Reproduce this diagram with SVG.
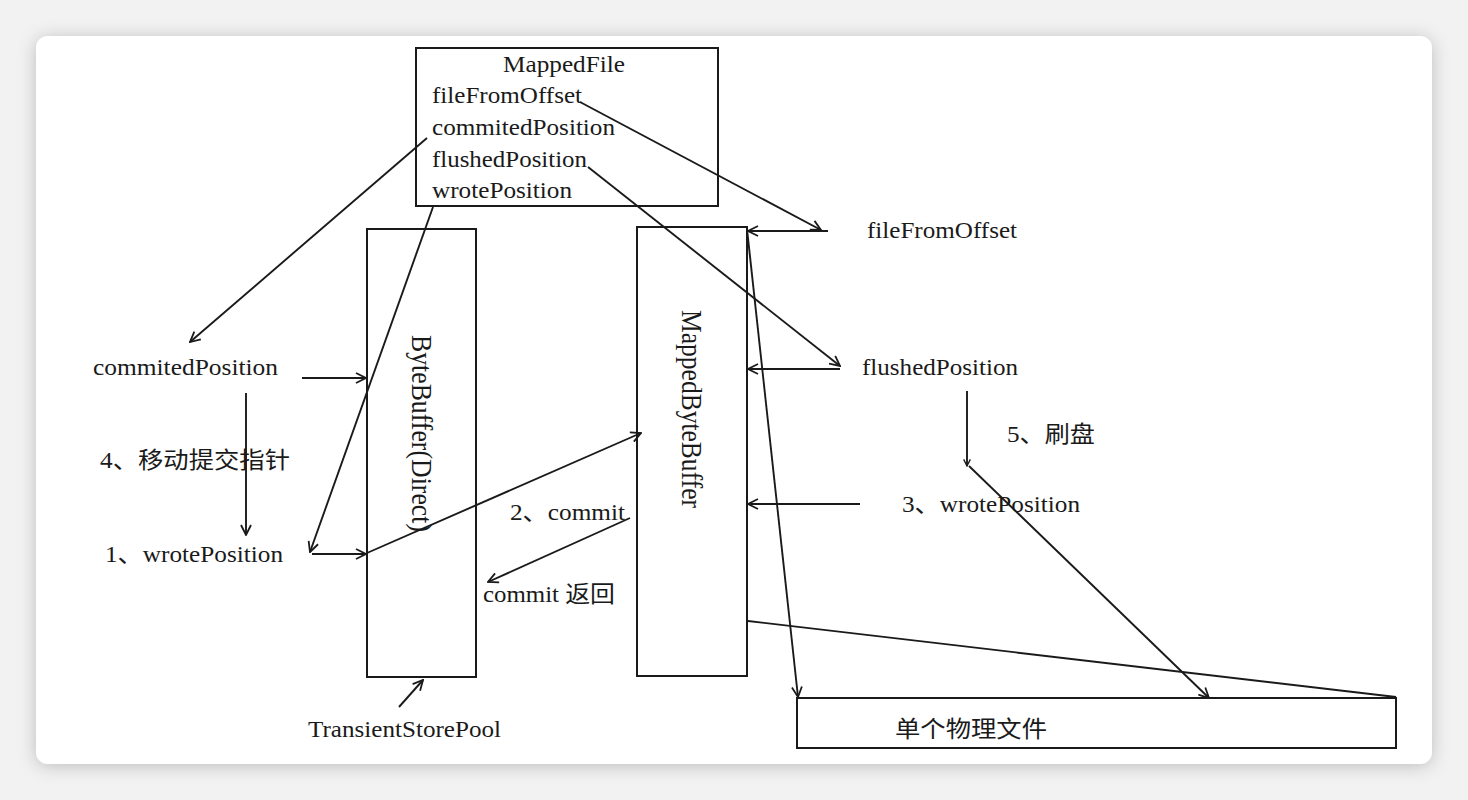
<svg xmlns="http://www.w3.org/2000/svg" width="1468" height="800" viewBox="0 0 1468 800">
  <defs>
    <filter id="shadow" x="-5%" y="-5%" width="110%" height="110%">
      <feDropShadow dx="0" dy="2" stdDeviation="9" flood-color="#000" flood-opacity="0.22"/>
    </filter>
    <marker id="arr" viewBox="0 0 12 12" refX="11" refY="6" markerWidth="12" markerHeight="12" markerUnits="userSpaceOnUse" orient="auto">
      <path d="M1,1 L11,6 L1,11" fill="none" stroke="#1a1a1a" stroke-width="1.8"/>
    </marker>
    <marker id="arrs" viewBox="0 0 12 12" refX="11" refY="6" markerWidth="8" markerHeight="8" markerUnits="userSpaceOnUse" orient="auto">
      <path d="M1,1 L11,6 L1,11" fill="none" stroke="#1a1a1a" stroke-width="2"/>
    </marker>
    <style>
      .box { fill: #fff; stroke: #1a1a1a; stroke-width: 2; }
      .ln { fill: none; stroke: #1a1a1a; stroke-width: 1.9; }
      .a { marker-end: url(#arr); }
      .t { font-family: "Liberation Serif", "Noto Sans CJK SC", serif; font-size: 23px; fill: #1a1a1a; }
      .v { font-family: "Liberation Serif", serif; font-size: 25px; fill: #1a1a1a; }
    </style>
  </defs>

  <rect x="0" y="0" width="1468" height="800" fill="#f2f2f2"/>
  <rect x="36" y="36" width="1396" height="728" rx="12" fill="#fff" filter="url(#shadow)"/>

  <g id="mappedfile">
    <rect class="box" x="416" y="48" width="302" height="158"/>
    <text class="t" x="503" y="72" textLength="122" lengthAdjust="spacingAndGlyphs">MappedFile</text>
    <text class="t" x="432" y="103" textLength="150" lengthAdjust="spacingAndGlyphs">fileFromOffset</text>
    <text class="t" x="432" y="135" textLength="183" lengthAdjust="spacingAndGlyphs">commitedPosition</text>
    <text class="t" x="432" y="167" textLength="155" lengthAdjust="spacingAndGlyphs">flushedPosition</text>
    <text class="t" x="432" y="198" textLength="140" lengthAdjust="spacingAndGlyphs">wrotePosition</text>
  </g>

  <g id="bytebuffer">
    <rect class="box" x="367" y="229" width="109" height="448"/>
    <text class="v" transform="translate(412,335) rotate(90) scale(1,1.17)" textLength="197" lengthAdjust="spacingAndGlyphs">ByteBuffer(Direct)</text>
  </g>

  <g id="mappedbytebuffer">
    <rect class="box" x="637" y="227" width="110" height="449"/>
    <text class="v" transform="translate(682,310) rotate(90) scale(1,1.17)" textLength="198" lengthAdjust="spacingAndGlyphs">MappedByteBuffer</text>
  </g>

  <g id="physicalfile">
    <rect class="box" x="797" y="698" width="599" height="50"/>
    <text class="t" x="895" y="737" textLength="152" lengthAdjust="spacingAndGlyphs">单个物理文件</text>
  </g>

  <g id="labels">
    <text class="t" x="93" y="375" textLength="185" lengthAdjust="spacingAndGlyphs">commitedPosition</text>
    <text class="t" x="100" y="468" textLength="190" lengthAdjust="spacingAndGlyphs">4、移动提交指针</text>
    <text class="t" x="105" y="562" textLength="178" lengthAdjust="spacingAndGlyphs">1、wrotePosition</text>
    <text class="t" x="510" y="520" textLength="115" lengthAdjust="spacingAndGlyphs">2、commit</text>
    <text class="t" x="483" y="602" textLength="132" lengthAdjust="spacingAndGlyphs">commit 返回</text>
    <text class="t" x="308" y="737" textLength="193" lengthAdjust="spacingAndGlyphs">TransientStorePool</text>
    <text class="t" x="867" y="238" textLength="150" lengthAdjust="spacingAndGlyphs">fileFromOffset</text>
    <text class="t" x="862" y="375" textLength="156" lengthAdjust="spacingAndGlyphs">flushedPosition</text>
    <text class="t" x="1007" y="442" textLength="88" lengthAdjust="spacingAndGlyphs">5、刷盘</text>
    <text class="t" x="902" y="512" textLength="178" lengthAdjust="spacingAndGlyphs">3、wrotePosition</text>
  </g>

  <g id="connectors">
    <line class="ln a" x1="427" y1="138" x2="190" y2="342"/>
    <line class="ln a" x1="433" y1="207" x2="310" y2="552"/>
    <line class="ln a" x1="302" y1="378" x2="366" y2="378"/>
    <line class="ln a" x1="246" y1="393" x2="246" y2="535"/>
    <line class="ln a" x1="312" y1="554" x2="366" y2="554"/>
    <line class="ln a" x1="367" y1="553" x2="641" y2="433"/>
    <line class="ln a" x1="630" y1="518" x2="488" y2="582"/>
    <line class="ln a" x1="399" y1="707" x2="423" y2="680"/>
    <line class="ln a" x1="580" y1="102" x2="821" y2="230"/>
    <line class="ln a" x1="828" y1="231" x2="748" y2="231"/>
    <line class="ln a" x1="588" y1="167" x2="840" y2="366"/>
    <line class="ln a" x1="840" y1="369" x2="748" y2="369"/>
    <line class="ln" x1="967" y1="391" x2="967" y2="466" marker-end="url(#arrs)"/>
    <line class="ln a" x1="969" y1="466" x2="1209" y2="698"/>
    <line class="ln a" x1="860" y1="504" x2="748" y2="504"/>
    <line class="ln a" x1="747" y1="229" x2="798" y2="697"/>
    <line class="ln" x1="748" y1="621" x2="1396" y2="697"/>
  </g>
</svg>
